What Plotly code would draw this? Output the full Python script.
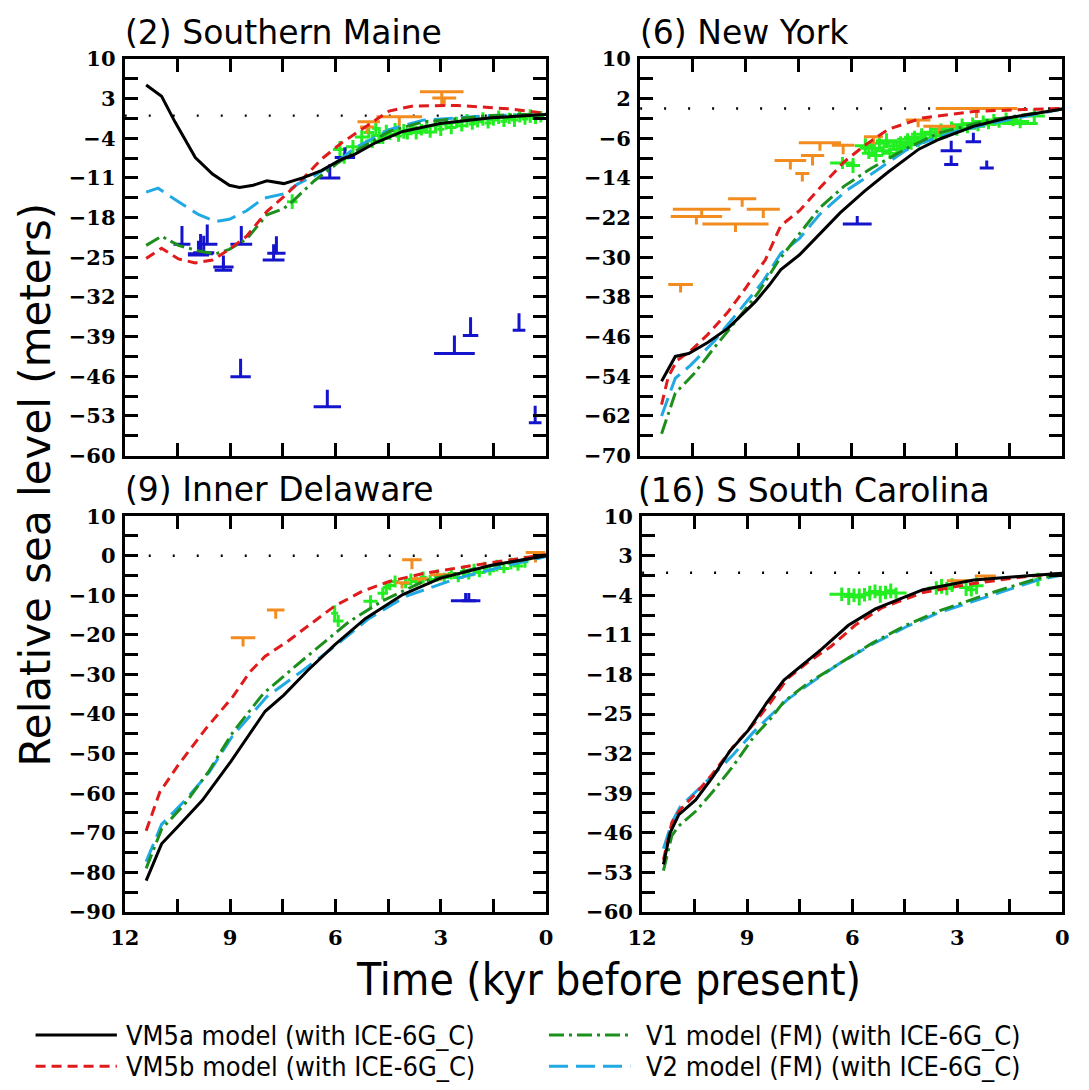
import plotly.graph_objects as go

W, H = 1089, 1090

# ---------------- tick definitions ----------------
X_TICKVALS = [12, 10.5, 9, 7.5, 6, 4.5, 3, 1.5, 0]
X_TICKTEXT = ["12", "", "9", "", "6", "", "3", "", "0"]

ME_YTICKS = [10, 6.5, 3, -0.5, -4, -7.5, -11, -14.5, -18, -21.5, -25, -28.5, -32, -35.5,
             -39, -42.5, -46, -49.5, -53, -56.5, -60]
NY_YTICKS = [10, 6, 2, -2, -6, -10, -14, -18, -22, -26, -30, -34, -38, -42, -46, -50,
             -54, -58, -62, -66, -70]
DE_YTICKS = [10, 5, 0, -5, -10, -15, -20, -25, -30, -35, -40, -45, -50, -55, -60, -65,
             -70, -75, -80, -85, -90]
SC_YTICKS = ME_YTICKS

# ---------------- (2) Southern Maine ----------------
ME_VM5A_T = [11.39, 10.95, 10.57, 9.99, 9.50, 9.02, 8.73, 8.34, 7.95, 7.47, 6.89, 6.40, 5.82, 5.44, 4.86, 4.08, 3.02, 1.56, 0.0]
ME_VM5A_RSL = [5.4, 3.4, -1.1, -7.4, -10.3, -12.3, -12.7, -12.3, -11.5, -12.0, -10.9, -9.7, -7.7, -6.8, -4.8, -2.8, -1.4, -0.4, 0.2]
ME_VM5B_T = [11.39, 10.95, 10.47, 9.99, 9.50, 9.02, 8.53, 7.95, 7.47, 6.89, 6.40, 5.82, 5.05, 4.47, 3.79, 2.53, 1.08, 0.0]
ME_VM5B_RSL = [-25.2, -23.4, -25.3, -26.0, -25.5, -23.6, -21.3, -16.9, -14.3, -10.9, -7.7, -4.8, -1.6, 0.8, 1.7, 1.8, 1.2, 0.4]
ME_V1_T = [11.39, 10.95, 10.47, 9.89, 9.41, 9.02, 8.53, 7.95, 7.47, 7.18, 6.60, 5.92, 5.44, 4.47, 3.50, 1.56, 0.0]
ME_V1_RSL = [-22.9, -21.3, -22.9, -23.9, -24.4, -23.6, -21.8, -17.5, -16.4, -14.9, -11.5, -8.3, -6.3, -2.8, -1.1, 0.0, 0.3]
ME_V2_T = [11.39, 11.05, 10.47, 9.89, 9.41, 9.02, 8.53, 8.05, 7.47, 7.08, 6.60, 5.92, 5.44, 4.47, 3.50, 1.56, 0.0]
ME_V2_RSL = [-13.5, -12.8, -15.2, -17.5, -18.7, -18.3, -16.8, -14.6, -13.8, -12.1, -10.6, -8.0, -5.7, -2.5, -0.8, 0.0, 0.2]

ME_SLIP_T = [7.23, 5.87, 5.75, 5.5, 5.25, 5.05, 4.95, 4.85, 4.75, 4.65, 4.55, 4.45, 4.3, 4.2, 4.05, 3.95, 3.8, 3.7,
             3.55, 3.4, 3.3, 3.15, 3.0, 2.85, 2.7, 2.55, 2.4, 2.25, 2.1, 1.95, 1.8, 1.65, 1.5, 1.35, 1.2, 1.05,
             0.9, 0.75, 0.6, 0.45, 0.3, 0.15]
ME_SLIP_RSL = [-15.2, -6.0, -7.5, -5.5, -3.8, -3.0, -4.5, -2.3, -3.5, -4.0, -2.8, -3.3, -2.5, -3.6, -2.8, -3.2, -2.2, -3.0,
               -2.5, -2.0, -2.9, -1.8, -2.4, -1.5, -2.1, -1.2, -1.8, -0.9, -1.5, -1.1, -0.6, -1.3, -0.8, -0.3, -1.0, -0.5,
               -0.8, -0.2, -0.6, -0.1, -0.5, -0.2]
ME_SLIP_ET = [0.15, 0.2, 0.15, 0.2, 0.2, 0.15, 0.2, 0.1, 0.2, 0.15, 0.1, 0.2, 0.15, 0.1, 0.2, 0.15, 0.1, 0.2,
              0.15, 0.1, 0.2, 0.15, 0.1, 0.2, 0.15, 0.1, 0.15, 0.2, 0.1, 0.15, 0.2, 0.1, 0.15, 0.2, 0.1, 0.15,
              0.1, 0.15, 0.1, 0.15, 0.1, 0.1]
ME_SLIP_ERSL = [1.3, 1.5, 1.0, 1.2, 1.2, 1.0, 1.2, 1.0, 1.5, 1.0, 1.2, 1.0, 1.2, 1.0, 1.3, 1.0, 1.0, 1.2,
                1.0, 1.2, 1.0, 1.0, 1.2, 1.0, 1.2, 1.0, 1.0, 1.2, 1.0, 1.0, 1.2, 1.0, 1.0, 1.2, 1.0, 1.0,
                1.2, 1.0, 1.0, 1.2, 1.0, 1.0]
ME_TERR_T = [2.97, 2.90, 5.05, 4.18, 5.10]
ME_TERR_RSL = [4.2, 3.1, -1.1, -0.2, -2.0]
ME_TERR_ET = [0.62, 0.34, 0.32, 0.65, 0.20]
ME_TERR_DOWN = [2.4, 1.5, 1.2, 1.7, 1.2]
ME_MAR_T = [10.37, 9.84, 9.75, 9.65, 9.90, 9.19, 9.19, 8.68, 7.76, 7.68, 6.16, 5.73, 8.70, 6.23, 2.61, 2.15, 0.77, 0.31]
ME_MAR_RSL = [-22.7, -24.4, -24.2, -22.7, -24.6, -26.7, -27.3, -22.7, -25.5, -24.3, -11.0, -7.4, -46.1, -51.4, -42.0, -38.8, -37.9, -54.2]
ME_MAR_ET = [0.24, 0.36, 0.30, 0.29, 0.30, 0.29, 0.25, 0.31, 0.31, 0.26, 0.30, 0.29, 0.29, 0.39, 0.58, 0.22, 0.18, 0.18]
ME_MAR_UP = [3.2, 3.5, 3.0, 3.5, 2.5, 2.0, 1.5, 3.2, 2.8, 3.0, 2.4, 1.8, 3.2, 3.0, 3.2, 3.2, 3.0, 3.0]

# ---------------- (6) New York ----------------
NY_VM5A_T = [11.39, 11.0, 10.62, 10.08, 9.50, 8.73, 8.34, 8.0, 7.47, 6.89, 6.31, 5.63, 4.95, 4.08, 3.50, 2.53, 1.57, 0.60, 0.0]
NY_VM5A_RSL = [-55.0, -50.0, -49.4, -47.2, -44.3, -39.0, -35.7, -32.5, -29.5, -25.2, -21.0, -16.7, -12.8, -8.2, -6.2, -3.6, -1.9, -0.8, -0.1]
NY_VM5B_T = [11.39, 11.2, 10.95, 10.57, 10.08, 9.50, 9.02, 8.44, 8.0, 7.47, 6.89, 6.21, 5.63, 4.95, 3.98, 2.53, 1.08, 0.0]
NY_VM5B_RSL = [-59.7, -54.1, -50.8, -48.9, -45.6, -41.0, -36.4, -30.5, -23.6, -20.6, -16.0, -10.8, -7.5, -4.2, -1.9, -0.6, -0.2, 0.0]
NY_V1_T = [11.39, 11.0, 10.47, 9.89, 9.21, 8.63, 8.05, 7.47, 6.89, 6.21, 5.44, 4.47, 3.50, 2.05, 0.0]
NY_V1_RSL = [-65.6, -57.4, -53.5, -48.2, -42.3, -37.0, -30.5, -25.2, -20.0, -15.7, -12.1, -8.2, -4.9, -2.3, -0.1]
NY_V2_T = [11.39, 11.0, 10.57, 9.89, 9.21, 8.53, 8.0, 7.47, 6.89, 6.11, 5.34, 4.47, 3.98, 3.02, 1.57, 0.0]
NY_V2_RSL = [-62.0, -54.4, -51.8, -46.9, -41.0, -35.1, -29.2, -26.2, -21.3, -16.4, -12.8, -8.5, -6.9, -4.6, -2.3, -0.1]

NY_SLIP_T = [6.25, 5.95, 5.6, 5.5, 5.4, 5.3, 5.2, 5.1, 5.0, 4.9, 4.8, 4.7, 4.6, 4.5, 4.4, 4.3, 4.2, 4.1, 4.0,
             3.9, 3.75, 3.6, 3.45, 3.3, 3.15, 3.0, 2.85, 2.7, 2.55, 2.4, 2.25, 2.1, 1.95, 1.8, 1.6, 1.4, 1.2, 0.8]
NY_SLIP_RSL = [-11.0, -11.5, -7.5, -9.0, -8.0, -9.5, -7.0, -8.5, -6.5, -9.0, -7.5, -8.2, -6.8, -7.8, -6.2, -7.3, -5.8, -6.8, -5.2,
               -6.0, -4.8, -5.5, -4.2, -5.0, -3.8, -4.5, -3.3, -4.0, -3.0, -3.6, -2.6, -3.2, -2.3, -2.9, -2.0, -2.6, -3.0, -1.5]
NY_SLIP_ET = [0.35, 0.2, 0.3, 0.2, 0.35, 0.2, 0.3, 0.25, 0.3, 0.2, 0.3, 0.25, 0.3, 0.2, 0.3, 0.25, 0.3, 0.2, 0.3,
              0.25, 0.3, 0.2, 0.3, 0.25, 0.3, 0.2, 0.3, 0.25, 0.3, 0.2, 0.3, 0.25, 0.3, 0.2, 0.35, 0.45, 0.5, 0.3]
NY_SLIP_ERSL = [1.2, 1.5, 1.5, 1.2, 1.0, 1.3, 1.2, 1.0, 1.5, 1.2, 1.0, 1.3, 1.2, 1.0, 1.2, 1.0, 1.3, 1.0, 1.2,
                1.0, 1.3, 1.0, 1.2, 1.0, 1.2, 1.0, 1.3, 1.0, 1.2, 1.0, 1.2, 1.0, 1.2, 1.0, 1.2, 1.0, 1.0, 1.5]
NY_TERR_T = [10.25, 10.40, 9.29, 9.10, 8.50, 10.85, 7.73, 7.39, 7.10, 6.89, 6.23, 5.37, 2.44, 4.10, 3.50]
NY_TERR_RSL = [-20.3, -21.8, -23.3, -18.2, -20.3, -35.5, -10.5, -13.1, -9.5, -6.9, -7.4, -5.7, 0.0, -2.3, -3.6]
NY_TERR_ET = [0.82, 0.73, 0.94, 0.40, 0.47, 0.35, 0.45, 0.20, 0.33, 0.60, 0.32, 0.27, 1.16, 0.35, 0.45]
NY_TERR_DOWN = [1.3, 1.6, 1.6, 1.6, 1.8, 1.6, 1.8, 1.6, 2.0, 1.6, 1.8, 1.5, 1.9, 1.5, 1.5]
NY_MAR_T = [5.83, 3.16, 3.16, 2.53, 2.15]
NY_MAR_RSL = [-23.3, -8.5, -11.3, -6.7, -12.0]
NY_MAR_ET = [0.41, 0.30, 0.20, 0.22, 0.20]
NY_MAR_UP = [1.6, 2.0, 1.8, 1.8, 1.5]

# ---------------- (9) Inner Delaware ----------------
DE_VM5A_T = [11.39, 10.95, 10.47, 9.79, 8.97, 8.49, 8.0, 7.47, 6.79, 6.02, 5.15, 4.08, 3.02, 1.56, 0.0]
DE_VM5A_RSL = [-82.1, -72.8, -68.3, -61.8, -51.9, -45.8, -39.3, -35.2, -29.0, -22.5, -15.9, -9.8, -5.7, -2.4, 0.0]
DE_VM5B_T = [11.39, 11.0, 10.47, 9.70, 8.92, 8.44, 8.0, 7.37, 6.70, 6.02, 5.24, 4.47, 3.50, 2.05, 0.0]
DE_VM5B_RSL = [-69.5, -59.7, -52.8, -43.8, -35.6, -29.4, -25.4, -21.7, -17.2, -12.7, -9.0, -6.5, -4.5, -2.4, 0.3]
DE_V1_T = [11.39, 10.95, 10.28, 9.60, 8.92, 8.05, 7.18, 6.40, 5.63, 4.66, 3.50, 2.05, 0.0]
DE_V1_RSL = [-79.0, -69.1, -62.6, -54.4, -44.6, -34.8, -28.2, -22.5, -16.8, -11.4, -6.5, -3.3, 0.0]
DE_V2_T = [11.39, 10.95, 10.28, 9.60, 8.92, 7.95, 6.99, 6.02, 5.05, 3.98, 2.53, 1.08, 0.0]
DE_V2_RSL = [-77.3, -67.9, -61.8, -54.8, -45.4, -35.6, -29.4, -22.9, -15.9, -10.2, -5.7, -2.4, -0.2]

DE_SLIP_T = [6.02, 5.92, 5.0, 4.65, 4.55, 4.45, 4.3, 4.0, 3.85, 3.7, 3.5, 3.3, 3.1, 2.9, 2.7, 2.5, 2.35,
             2.2, 2.05, 1.9, 1.75, 1.6, 1.4, 1.2, 1.0, 0.8, 0.6]
DE_SLIP_RSL = [-14.5, -16.5, -11.5, -9.5, -8.0, -7.5, -6.5, -7.0, -6.0, -6.5, -5.5, -6.0, -5.0, -5.5, -4.5, -5.5, -4.0,
               -4.8, -3.5, -4.2, -3.0, -3.8, -2.5, -3.2, -2.0, -2.6, -1.5]
DE_SLIP_ET = [0.1, 0.15, 0.2, 0.15, 0.1, 0.15, 0.1, 0.15, 0.1, 0.15, 0.1, 0.15, 0.1, 0.15, 0.1, 0.15, 0.1,
              0.15, 0.1, 0.15, 0.1, 0.15, 0.1, 0.15, 0.1, 0.15, 0.1]
DE_SLIP_ERSL = [2.0, 1.5, 1.5, 1.5, 1.5, 1.2, 1.5, 1.2, 1.5, 1.2, 1.5, 1.2, 1.5, 1.2, 1.5, 1.2, 1.5,
                1.2, 1.5, 1.2, 1.5, 1.2, 1.5, 1.2, 1.5, 1.2, 1.5]
DE_TERR_T = [8.63, 7.70, 3.82, 4.10, 3.60, 3.00, 0.30]
DE_TERR_RSL = [-20.7, -13.7, -1.0, -6.8, -5.8, -4.8, 0.8]
DE_TERR_ET = [0.35, 0.25, 0.28, 0.20, 0.25, 0.30, 0.28]
DE_TERR_DOWN = [2.2, 2.2, 2.4, 1.5, 1.5, 1.5, 2.5]
DE_MAR_T = [2.29, 2.20]
DE_MAR_RSL = [-11.4, -11.4]
DE_MAR_ET = [0.42, 0.20]
DE_MAR_UP = [2.0, 2.0]

# ---------------- (16) S South Carolina ----------------
SC_VM5A_T = [11.39, 11.2, 10.95, 10.47, 9.99, 9.50, 8.97, 8.44, 7.95, 7.47, 6.89, 6.11, 5.34, 3.98, 2.53, 1.08, 0.0]
SC_VM5A_RSL = [-51.6, -46.0, -42.8, -40.2, -36.2, -31.6, -27.9, -23.0, -19.0, -16.5, -13.6, -9.3, -6.4, -3.0, -1.3, -0.6, -0.1]
SC_VM5B_T = [11.39, 11.15, 10.91, 10.47, 9.99, 9.40, 8.82, 8.34, 7.86, 7.28, 6.60, 5.92, 5.15, 3.98, 2.53, 1.08, 0.0]
SC_VM5B_RSL = [-50.8, -44.2, -41.9, -39.1, -35.6, -30.8, -26.8, -23.0, -18.8, -15.9, -13.0, -9.3, -6.2, -3.5, -1.9, -0.7, -0.1]
SC_V1_T = [11.39, 11.15, 10.95, 10.47, 9.99, 9.40, 8.82, 8.34, 7.95, 7.28, 6.40, 5.44, 4.47, 3.50, 2.05, 0.70, 0.0]
SC_V1_RSL = [-52.7, -46.5, -44.8, -42.2, -38.8, -34.2, -29.1, -25.9, -22.8, -19.6, -16.2, -12.5, -9.3, -6.7, -3.6, -1.0, -0.3]
SC_V2_T = [11.39, 11.15, 10.91, 10.47, 9.99, 9.40, 8.82, 8.34, 7.86, 7.28, 6.40, 5.44, 4.47, 3.50, 2.05, 0.70, 0.0]
SC_V2_RSL = [-48.8, -44.2, -41.4, -38.8, -35.9, -32.2, -28.2, -25.3, -22.5, -19.9, -16.2, -12.7, -9.6, -7.0, -4.0, -1.3, -0.4]

SC_SLIP_T = [6.3, 6.1, 5.95, 5.8, 5.65, 5.5, 5.35, 5.2, 5.05, 4.9, 4.75, 3.6, 3.45, 3.3, 3.15, 2.75, 2.6, 2.45, 0.7]
SC_SLIP_RSL = [-3.8, -4.2, -4.0, -4.3, -3.9, -3.6, -3.3, -3.8, -3.5, -3.2, -3.6, -2.7, -2.4, -2.8, -2.2, -2.6, -3.0, -2.3, -1.2]
SC_SLIP_ET = [0.35, 0.15, 0.2, 0.15, 0.2, 0.15, 0.2, 0.15, 0.2, 0.15, 0.3, 0.25, 0.15, 0.2, 0.15, 0.2, 0.15, 0.2, 0.1]
SC_SLIP_ERSL = [1.2, 1.5, 1.2, 1.5, 1.2, 1.3, 1.2, 1.5, 1.2, 1.3, 1.0, 1.2, 1.3, 1.2, 1.2, 1.5, 1.2, 1.5, 1.2]
SC_TERR_T = [2.95, 2.20]
SC_TERR_RSL = [-1.4, -0.6]
SC_TERR_ET = [0.35, 0.30]
SC_TERR_DOWN = [1.0, 1.0]

PANEL_TITLES = ["(2) Southern Maine", "(6) New York", "(9) Inner Delaware", "(16) S South Carolina"]
LEGEND_LABELS = ["VM5a model (with ICE-6G_C)", "VM5b model (with ICE-6G_C)",
                 "V1 model (FM) (with ICE-6G_C)", "V2 model (FM) (with ICE-6G_C)"]

# ---------------- styles ----------------
C_BLACK = "#000000"
C_RED = "#e01b1b"
C_GREEN = "#1d8f1d"
C_BLUE = "#21a9e3"
C_SLIP = "#22ee22"
C_TERR = "#f28c1f"
C_MAR = "#1414cc"
LW = 3
MODEL_STYLES = [
    dict(color=C_BLACK, width=LW, dash="solid"),
    dict(color=C_RED, width=LW, dash="10px,6px"),
    dict(color=C_GREEN, width=LW, dash="15px,5px,3px,5px"),
    dict(color=C_BLUE, width=LW, dash="19px,8px"),
]
TICK_FONT = dict(family="DejaVu Serif", size=21, color="black", weight="bold")
COND = "DejaVu Sans Condensed, Liberation Sans Narrow, DejaVu Sans"

panels = [
    dict(models=[(ME_VM5A_T, ME_VM5A_RSL), (ME_VM5B_T, ME_VM5B_RSL), (ME_V1_T, ME_V1_RSL), (ME_V2_T, ME_V2_RSL)],
         slip=(ME_SLIP_T, ME_SLIP_RSL, ME_SLIP_ET, ME_SLIP_ERSL),
         terr=(ME_TERR_T, ME_TERR_RSL, ME_TERR_ET, ME_TERR_DOWN),
         mar=(ME_MAR_T, ME_MAR_RSL, ME_MAR_ET, ME_MAR_UP),
         yticks=ME_YTICKS),
    dict(models=[(NY_VM5A_T, NY_VM5A_RSL), (NY_VM5B_T, NY_VM5B_RSL), (NY_V1_T, NY_V1_RSL), (NY_V2_T, NY_V2_RSL)],
         slip=(NY_SLIP_T, NY_SLIP_RSL, NY_SLIP_ET, NY_SLIP_ERSL),
         terr=(NY_TERR_T, NY_TERR_RSL, NY_TERR_ET, NY_TERR_DOWN),
         mar=(NY_MAR_T, NY_MAR_RSL, NY_MAR_ET, NY_MAR_UP),
         yticks=NY_YTICKS),
    dict(models=[(DE_VM5A_T, DE_VM5A_RSL), (DE_VM5B_T, DE_VM5B_RSL), (DE_V1_T, DE_V1_RSL), (DE_V2_T, DE_V2_RSL)],
         slip=(DE_SLIP_T, DE_SLIP_RSL, DE_SLIP_ET, DE_SLIP_ERSL),
         terr=(DE_TERR_T, DE_TERR_RSL, DE_TERR_ET, DE_TERR_DOWN),
         mar=(DE_MAR_T, DE_MAR_RSL, DE_MAR_ET, DE_MAR_UP),
         yticks=DE_YTICKS),
    dict(models=[(SC_VM5A_T, SC_VM5A_RSL), (SC_VM5B_T, SC_VM5B_RSL), (SC_V1_T, SC_V1_RSL), (SC_V2_T, SC_V2_RSL)],
         slip=(SC_SLIP_T, SC_SLIP_RSL, SC_SLIP_ET, SC_SLIP_ERSL),
         terr=(SC_TERR_T, SC_TERR_RSL, SC_TERR_ET, SC_TERR_DOWN),
         mar=None,
         yticks=SC_YTICKS),
]

# pixel boxes of the four plot areas (left, right, top, bottom)
BOXES = [(112, 542, 47, 453), (638, 1069, 47, 453), (112, 542, 515, 920), (640, 1069, 515, 920)]


def fmt(v):
    s = f"{v:g}"
    return s.replace("-", "\u2212")


fig = go.Figure()

for i, p in enumerate(panels):
    k = i + 1
    xa = "x" if k == 1 else f"x{k}"
    ya = "y" if k == 1 else f"y{k}"
    # zero reference line
    fig.add_trace(go.Scatter(x=[12, 0], y=[0, 0], xaxis=xa, yaxis=ya, mode="lines",
                             line=dict(color="black", width=2.4, dash="2px,22px"), hoverinfo="skip"))
    # data points
    t, v, et, ev = p["slip"]
    fig.add_trace(go.Scatter(x=t, y=v, xaxis=xa, yaxis=ya, mode="markers",
                             marker=dict(size=1, color=C_SLIP),
                             error_x=dict(type="data", array=et, width=0, thickness=3, color=C_SLIP),
                             error_y=dict(type="data", array=ev, width=0, thickness=3, color=C_SLIP)))
    t, v, et, dn = p["terr"]
    fig.add_trace(go.Scatter(x=t, y=v, xaxis=xa, yaxis=ya, mode="markers",
                             marker=dict(size=1, color=C_TERR),
                             error_x=dict(type="data", array=et, width=0, thickness=3, color=C_TERR),
                             error_y=dict(type="data", symmetric=False, array=[0] * len(dn), arrayminus=dn,
                                          width=0, thickness=3, color=C_TERR)))
    if p["mar"] is not None:
        t, v, et, up = p["mar"]
        fig.add_trace(go.Scatter(x=t, y=v, xaxis=xa, yaxis=ya, mode="markers",
                                 marker=dict(size=1, color=C_MAR),
                                 error_x=dict(type="data", array=et, width=0, thickness=3, color=C_MAR),
                                 error_y=dict(type="data", symmetric=False, array=up, arrayminus=[0] * len(up),
                                              width=0, thickness=3, color=C_MAR)))
    # model curves (drawn in order V2, V1, VM5b, VM5a so black is on top)
    for j in [3, 2, 1, 0]:
        mt, mv = p["models"][j]
        fig.add_trace(go.Scatter(x=mt, y=mv, xaxis=xa, yaxis=ya, mode="lines",
                                 line=MODEL_STYLES[j], hoverinfo="skip"))

    l, r, tp, bt = BOXES[i]
    yt = p["yticks"]
    ytext = [fmt(v) if n % 2 == 0 else "" for n, v in enumerate(yt)]
    axis_common = dict(showgrid=False, zeroline=False, showline=True, linecolor="black", linewidth=3,
                       mirror="ticks", ticks="inside", ticklen=13, tickwidth=2.6, tickcolor="black",
                       tickfont=TICK_FONT)
    fig.update_layout(**{
        ("xaxis" if k == 1 else f"xaxis{k}"): dict(
            axis_common, domain=[l / W, r / W], anchor=ya, range=[12, 0],
            tickmode="array", tickvals=X_TICKVALS, ticktext=X_TICKTEXT,
            showticklabels=(k >= 3), ticklabelstandoff=5),
        ("yaxis" if k == 1 else f"yaxis{k}"): dict(
            axis_common, domain=[1 - bt / H, 1 - tp / H], anchor=xa, range=[yt[-1], yt[0]],
            tickmode="array", tickvals=yt, ticktext=ytext, ticklabelstandoff=2),
    })

annotations = []
TITLE_POS = [(110, 20), (636, 20), (110, 488), (634, 489)]
for (x, y), txt in zip(TITLE_POS, PANEL_TITLES):
    annotations.append(dict(text=txt, x=x / W, y=1 - y / H, xref="paper", yref="paper", xanchor="left",
                            yanchor="middle", showarrow=False,
                            font=dict(family="DejaVu Sans", size=33, color="black")))
annotations.append(dict(text="Relative sea level (meters)", x=21 / W, y=1 - 483 / H, xref="paper", yref="paper",
                        textangle=-90, showarrow=False, xanchor="center", yanchor="middle",
                        font=dict(family="DejaVu Sans", size=42, color="black")))
annotations.append(dict(text="Time (kyr before present)", x=606 / W, y=1 - 989 / H, xref="paper", yref="paper",
                        showarrow=False, xanchor="center", yanchor="middle",
                        font=dict(family=COND, size=44, color="black")))

# legend (drawn manually to match the two-column layout)
LEG_POS = [(21, 104, 111, 1046), (21, 104, 111, 1078), (545, 628, 642, 1046), (545, 628, 642, 1078)]
shapes = []
for j, (x0, x1, xt, yy) in enumerate(LEG_POS):
    st = MODEL_STYLES[j]
    shapes.append(dict(type="line", xref="paper", yref="paper", x0=x0 / W, x1=x1 / W, y0=1 - yy / H, y1=1 - yy / H,
                       line=dict(color=st["color"], width=LW, dash=st["dash"])))
    annotations.append(dict(text=LEGEND_LABELS[j], x=xt / W, y=1 - yy / H, xref="paper", yref="paper",
                            xanchor="left", yanchor="middle", showarrow=False,
                            font=dict(family=COND, size=27, color="black")))

fig.update_layout(width=W, height=H, margin=dict(l=0, r=0, t=0, b=0), showlegend=False,
                  paper_bgcolor="white", plot_bgcolor="white",
                  annotations=annotations, shapes=shapes)

fig.write_html("out.html")
